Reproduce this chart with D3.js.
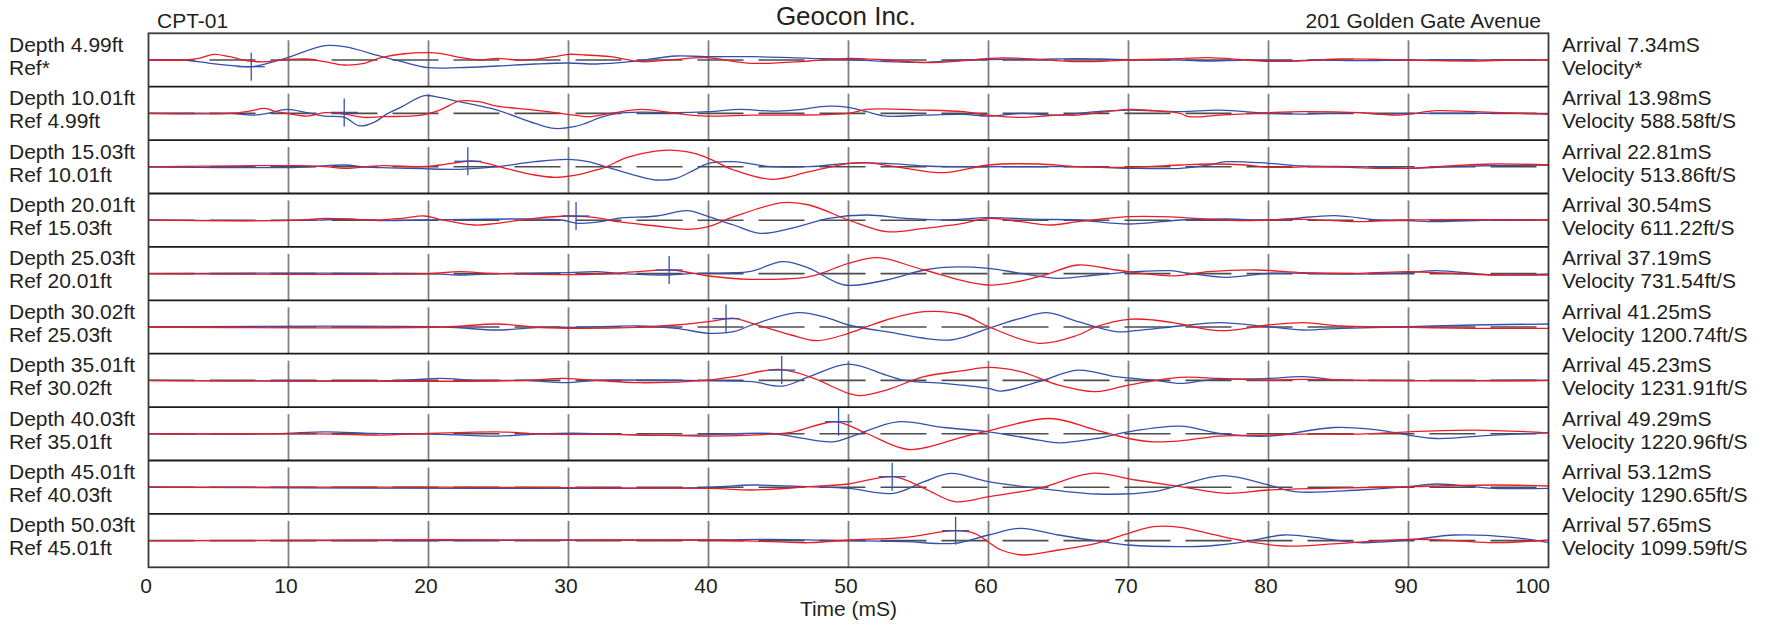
<!DOCTYPE html>
<html>
<head>
<meta charset="utf-8">
<script src="https://cdn.jsdelivr.net/npm/d3@7"></script>
<style>
  html, body { margin: 0; padding: 0; background: #fff; }
  svg text { font-family: "Liberation Sans", Arial, Helvetica, sans-serif; fill: #231f20; }
</style>
</head>
<body>
<div id="chart"></div>
<script>
var depthLabels = ['Depth 4.99ft', 'Depth 10.01ft', 'Depth 15.03ft', 'Depth 20.01ft', 'Depth 25.03ft',
    'Depth 30.02ft', 'Depth 35.01ft', 'Depth 40.03ft', 'Depth 45.01ft', 'Depth 50.03ft'];
var refLabels = ['Ref*', 'Ref 4.99ft', 'Ref 10.01ft', 'Ref 15.03ft', 'Ref 20.01ft',
    'Ref 25.03ft', 'Ref 30.02ft', 'Ref 35.01ft', 'Ref 40.03ft', 'Ref 45.01ft'];
var arrivalLabels = ['Arrival 7.34mS', 'Arrival 13.98mS', 'Arrival 22.81mS', 'Arrival 30.54mS', 'Arrival 37.19mS',
    'Arrival 41.25mS', 'Arrival 45.23mS', 'Arrival 49.29mS', 'Arrival 53.12mS', 'Arrival 57.65mS'];
var velocityLabels = ['Velocity*', 'Velocity 588.58ft/S', 'Velocity 513.86ft/S', 'Velocity 611.22ft/S', 'Velocity 731.54ft/S',
    'Velocity 1200.74ft/S', 'Velocity 1231.91ft/S', 'Velocity 1220.96ft/S', 'Velocity 1290.65ft/S', 'Velocity 1099.59ft/S'];

// arrival pick (ms) and trace amplitude at the pick
var arrivals = [7.34, 13.98, 22.81, 30.54, 37.19, 41.25, 45.23, 49.29, 53.12, 57.65];
var pickAmps = [-6.7, 1, 5.5, 4.2, 3.6, 8.4, 10.3, 12.1, 10.5, 9.9];

var timeTicks = [0, 10, 20, 30, 40, 50, 60, 70, 80, 90, 100];

// traces: [time mS, amplitude]
var blue01 = [[0,0],[2.5,0],[4.4,-3.3],[6.3,-6],[7.4,-6.7],[8.5,-3.3],[10,2.7],[12.6,14.3],[14,13.3],[16.7,3.3],[18.1,-1.7],[20,-7.7],[22.2,-7.7],[24.9,-6],[27.6,-4],[30,-3],[32,-4],[34.4,-1.7],[37.7,4],[39.8,3.3],[43.1,3.3],[47.2,1.7],[50,0.7],[52.7,-1.7],[55.4,-2.3],[58.2,0],[63.6,0.7],[66.4,1.3],[69.1,0.7],[73.7,0],[75.7,-1],[78.4,0],[81.1,-1],[83.8,0],[86.5,-0.7],[90,0],[100,0]];
var red01 = [[0,0],[2.5,0],[3.6,1.7],[4.7,5.7],[5.8,3.3],[7.2,-1],[8.5,-1.7],[10,0.7],[11.3,1],[12.6,-1.7],[14,-5],[15.4,-3.3],[16.7,2.7],[18.1,6],[20,7.3],[20.8,6.7],[22.2,2.7],[23.6,0],[24.9,1.7],[26.3,0],[27.6,0.7],[29,3.3],[30,5.7],[31.2,5],[33,3.3],[35.2,-1.7],[37.7,0.7],[39.8,2.3],[43.1,-3.3],[47.2,-1],[50,1.7],[52.7,0],[55.4,-2.7],[58.2,-0.7],[60,1.7],[62.3,1.7],[66.4,-1.7],[70,0],[73.7,1.3],[75.7,2.3],[78.4,0],[80,-1.3],[82.5,-0.7],[85.2,1],[87.9,0.7],[90,0],[92,-0.7],[94.7,-1],[97.4,0],[100,0]];
var blue02 = [[0,0],[5.8,0],[7.4,-1.7],[8.5,0],[9.9,4],[11.3,0.7],[12.6,-2.7],[14,-4],[15.1,-12.5],[16.2,-8.3],[16.9,-1.7],[18.1,6.7],[19.7,17.7],[20.8,16],[22.2,11.7],[24.9,3.3],[27.6,-10],[29,-15],[30.4,-13.3],[31.2,-10],[32.3,-4],[33.5,0],[35.2,1.3],[37.7,0.7],[40,1.7],[42.3,4],[44.5,2.3],[46.1,3.3],[48.6,7.3],[50,6],[51.3,1.7],[52.7,-2.7],[55.4,-1.7],[58.2,-1],[60,-2.7],[62.3,0],[65,-1.7],[67.7,1.7],[70,3.3],[73.7,1.7],[76.5,3.3],[80,0],[82.5,-0.7],[86.5,0.7],[87.9,-0.7],[90,0],[100,0]];
var red02 = [[0,0],[5.8,0],[7.2,2.3],[8.3,5],[9.1,1.7],[9.9,0],[11.3,-2.7],[12.6,0.7],[14,-0.7],[15.4,-4],[16.7,-3.3],[19.5,-1.7],[20.8,3.3],[22.2,12.3],[23.6,11.7],[24.9,7.3],[27.6,3.3],[30.4,-1.7],[31.5,-3.3],[33,0],[35.2,4],[37.7,0],[39.8,-2.7],[43.1,-1.7],[45.9,-1.7],[50,0],[51.3,4],[55.4,3.3],[58.2,1.7],[60,-1.7],[62.3,-4],[65,-1.7],[66.4,-1.7],[70,4],[71.8,2.7],[73.7,0],[74.3,-3.3],[76.5,-1.7],[80,0.7],[82.5,1.7],[86.5,0.7],[89.3,-1.7],[92,2.7],[94.7,1.7],[100,-1]];
var blue03 = [[0,0],[10.7,-0.5],[14,1.8],[15.4,0],[16.7,-0.9],[19.5,-1.9],[22.2,-2.5],[24.9,0.1],[27.6,5.1],[30,7.5],[31.5,5],[32.7,0],[34.9,-9],[36.3,-13.2],[37.7,-11.5],[39,-3],[40,3.5],[41.8,5.1],[44.5,0.1],[47.2,0.1],[50,3.5],[52.7,3.5],[55.4,0.8],[58.2,0.1],[66.4,0.1],[70,-1.5],[73.7,-1.5],[75.7,1.8],[77,5.1],[80,3.5],[82.5,0.8],[86.5,0.1],[90,-1.5],[92,-0.5],[94.7,0.8],[100,1.8]];
var red03 = [[0,0],[10.7,1.1],[12.6,0.1],[14,-1.5],[16.7,1.1],[19.5,0.1],[20.8,1.8],[23,5.8],[23.6,5.1],[25.5,-1.5],[27.6,-8.2],[29,-10.5],[30.4,-8.5],[31.5,-5],[32.7,0],[34,8.5],[35.5,14],[36.8,16.5],[38,16],[39,13.5],[40,8.5],[41.8,-3.2],[44.5,-12.5],[47.2,-4.9],[50,3.5],[51.3,4.1],[54.1,-1.5],[56.8,-5.9],[60,1.8],[63.6,2.8],[66.4,0.1],[70,-0.5],[73.7,1.8],[75.7,2.8],[78.4,1.8],[80,-0.5],[83.8,0.1],[87.9,-1.5],[90,-1.5],[92,0.1],[96.1,2.8],[100,1.8]];
var blue04 = [[0,0],[12,0],[14,1.2],[16.7,-0.5],[19.5,0.2],[27.6,1.2],[29.5,0.2],[30.7,-3.1],[32.3,-1.5],[33.5,1.9],[36.3,4.2],[38.5,9.5],[40,3.5],[41.8,-4.8],[43.7,-13.1],[45.9,-8.1],[48.6,1.9],[51.3,5.2],[54.1,1.9],[56.8,0.2],[60,2.5],[63.6,0.9],[66.4,0.2],[70,-3.8],[73.7,0.2],[77,1.2],[80,0.2],[81.9,1.9],[84.7,4.5],[87.9,0.2],[90,-0.5],[92,-1.5],[96.1,0.2],[100,0.2]];
var red04 = [[0,0],[10.7,0],[12.6,1.9],[16.2,0.2],[18.1,1.9],[19.7,4.2],[20.8,0.9],[23.3,-4.8],[24.9,-3.1],[27.6,1.9],[30,4.2],[31.2,3.5],[32.3,1.9],[33.5,-1.5],[36.3,-5.8],[38.5,-9.1],[40,-6.5],[41.8,3.5],[45.3,17.5],[47.2,15.2],[50,0.2],[52.7,-11.5],[55.4,-8.1],[58.2,-3.1],[60,1.9],[62.3,-1.5],[64.4,-4.8],[66.4,-1.5],[70,3.5],[73.7,2.9],[75.7,0.9],[78.4,-0.5],[80,0.2],[82.5,0.9],[86.5,-1.5],[90,0.2],[100,0.2]];
var blue05 = [[0,0],[20,0],[22.2,-1.4],[25,0],[30,1],[32,1.9],[33.5,0.3],[37.1,-1.4],[39,0.3],[42.9,1.9],[45.3,11.9],[47.2,5.3],[49.7,-11.4],[52.7,-6.4],[55.4,3.6],[56.8,6.3],[60,5.3],[62.3,0.3],[65,-4.7],[67.7,-1.4],[70.5,1.9],[73,2.9],[74.3,0.3],[77,-3.7],[80,0.3],[82.5,0.3],[86.5,-0.4],[90,0.9],[92,2.9],[96.1,-1.4],[100,-0.4]];
var red05 = [[0,0],[20,0],[22.2,1.9],[24.9,0],[32.3,-0.4],[34.9,1.9],[37.4,3.6],[40,-2.4],[42.9,-5.7],[47.2,-3.1],[50,10.3],[52.1,15.9],[55.4,3.6],[60,-11.4],[63.6,-3.1],[66.4,8.6],[69.1,3.6],[73.3,-2.3],[75.7,1.9],[79.2,3.6],[82.5,0.9],[86.5,0.3],[90,1.9],[92,0.9],[96.1,-1.4],[100,-1.4]];
var blue06 = [[0,0],[21,0],[24.9,-3],[28,-0.3],[30.8,-0.3],[34.9,1],[37.7,-1.3],[40,-6.3],[41.8,-4.7],[43.1,2],[46.4,14.3],[48.6,8.7],[50,2],[52.7,-4.7],[57.3,-13],[60,-1.3],[62.3,8.7],[64.2,14.3],[66.4,5.3],[69.1,-4.7],[70.5,-3.7],[73.7,1],[76.5,4.3],[80,0.3],[82.5,-3],[85.2,-1.3],[90,0.3],[94.7,2],[100,3]];
var red06 = [[0,0],[21,0],[24.9,3],[28,-0.5],[30.8,-1.3],[34.9,-0.3],[37.7,2],[40,5.3],[41.8,8.7],[43.1,3.7],[45.9,-8],[47.8,-13.7],[50,-6.3],[52.7,7],[55.4,15.3],[58.2,12],[60,0.3],[63.6,-16.3],[66.4,-8],[67.7,0.3],[70,7.7],[71.8,7],[73.7,3],[76.5,-3.7],[80,2],[82.5,4.3],[85.2,1],[90,-0.3],[94.7,-1.3],[100,-1.3]];
var blue07 = [[0,0],[18,0],[20.8,2],[23.5,0],[27,0],[29.8,-2.3],[32,0],[40,-0.3],[43.1,-1.3],[45.3,-5.7],[47.2,3.7],[50,16.3],[52.7,5.3],[54.1,-0.3],[56.8,-3],[60,-8],[60.9,-10.7],[63.6,-1.3],[66.4,10.3],[69.1,3.7],[71.8,0.3],[73.7,-3],[75.7,0.3],[80,2],[82.5,3.7],[85.2,0.3],[90,-0.3],[100,0.3]];
var red07 = [[0,0],[27,0],[29.5,2],[32,0],[35,-2.3],[40,0.3],[41.8,3.7],[45,11],[47.2,3.7],[50,-13],[50.8,-15.3],[52.7,-9.7],[55.4,3.7],[58.2,9.7],[60,13],[62.3,8.7],[65,-4.7],[67.7,-11.3],[70,-4.7],[73.7,3],[76.5,2],[80,0.3],[82.5,1],[86.5,0.3],[90,-0.3],[100,-0.3]];
var blue08 = [[0,0],[9,0],[12.6,2],[16,0.5],[20,0],[24.9,-2.3],[28,0],[31,0.5],[35,-1.3],[39,-1.3],[44.5,0.3],[46.1,-3],[48.9,-8],[50.5,-1.3],[53.5,12],[56.8,6.3],[60,2],[63.6,-6.3],[65,-9],[67.7,-4.7],[70,2],[73.7,7.7],[76.5,0.3],[80,-2.3],[84.7,6.3],[87.9,3.7],[90,-1.3],[92,-4.7],[96.1,-1.3],[100,1]];
var red08 = [[0,0],[12,0],[16.7,-1.3],[19,0],[24.9,2],[28,0],[35,-1],[40,-2.3],[44.5,-0.3],[46.1,2],[49.1,12],[51.3,0.3],[54.3,-15.7],[58.2,-3],[60,3],[64.4,15.3],[67.7,3.7],[70,-4.7],[71.8,-8],[73.7,-7],[76.5,-2.3],[80,-1.3],[82.5,-0.3],[86.5,-0.3],[90,2],[94.7,3.7],[100,1]];
var blue09 = [[0,0],[40,-0.1],[43.1,2.2],[47.2,0.5],[50,-1.1],[53.2,-6.1],[55.4,5.5],[57.3,13.9],[60,5.5],[63.6,-1.1],[67.7,-6.8],[71.8,-4.5],[73.7,2.2],[76.8,11.5],[80,2.2],[81.9,-4.5],[86.5,-2.8],[90,0.5],[92,3.2],[96.1,-1.1],[100,-1.1]];
var red09 = [[0,0],[40,-1.1],[43.1,-2.8],[47.2,0.5],[50,3.2],[53.2,10.5],[55.4,-1.1],[57.6,-14.5],[60,-9.5],[63.6,-1.1],[67.4,13.9],[70.5,7.2],[73.7,0.5],[77,-6.1],[80,-2.8],[83.8,-1.1],[90,0.5],[96.1,2.2],[100,1.2]];
var blue10 = [[0,0],[40,0.6],[44.5,1.3],[50,-0.1],[54.1,-1.1],[57.6,-2.7],[60,5.6],[62.3,12.3],[65,5.6],[67.7,-0.1],[70,-4.4],[73.7,-6.1],[75.7,-5.4],[78.4,-1.1],[81.1,5.6],[83.8,2.3],[86.5,-2.1],[90,0.6],[93.3,5.6],[97.4,3.3],[100,-2.1]];
var red10 = [[0,0],[40,0.6],[44.5,-1.1],[47.2,-2.1],[50,0.6],[54.1,3.3],[57.6,9.9],[59,7.3],[60.9,-9.4],[62.5,-14.4],[65,-9.4],[67.7,-2.7],[70,7.3],[71.8,13.9],[73.7,13.3],[75.7,7.3],[77.9,0.6],[81.1,-5.4],[85.2,-2.7],[90,1.3],[93.3,-0.1],[96.1,-2.1],[100,0.6]];

var blueTraces = [blue01, blue02, blue03, blue04, blue05, blue06, blue07, blue08, blue09, blue10];
var redTraces = [red01, red02, red03, red04, red05, red06, red07, red08, red09, red10];

var width = 1767, height = 626;
var plotLeft = 148.5, plotRight = 1548.5, plotTop = 33.3, plotBottom = 567.3;
var blue = '#3450ab', red = '#ec1c24';

var svg = d3.select('#chart').append('svg')
    .attr('width', width)
    .attr('height', height);

var x = d3.scaleLinear().domain([0, 100]).range([plotLeft, plotRight]);
var row = d3.scaleBand().domain(d3.range(depthLabels.length)).range([plotTop, plotBottom]);
var amp = d3.scaleLinear().domain([-26.7, 26.7]).range([row.bandwidth(), 0]);

var line = d3.line()
    .x(function(d) { return x(d[0]); })
    .y(function(d) { return amp(d[1]); })
    .curve(d3.curveCatmullRom.alpha(0.5));

var panels = svg.selectAll('g.panel')
    .data(d3.range(depthLabels.length)).enter().append('g')
    .attr('class', 'panel')
    .attr('transform', function(i) { return 'translate(0,' + row(i) + ')'; });

// vertical grid, starts a little below the panel top
panels.each(function() {
    d3.select(this).selectAll('line.grid')
        .data(timeTicks.slice(1, -1)).enter().append('line')
        .attr('x1', function(t) { return x(t); })
        .attr('x2', function(t) { return x(t); })
        .attr('y1', 7)
        .attr('y2', row.bandwidth())
        .style('stroke', '#808080')
        .style('stroke-width', 1.8);
});

// dashed zero line
panels.append('line')
    .attr('x1', x(0)).attr('x2', x(100))
    .attr('y1', amp(0)).attr('y2', amp(0))
    .style('stroke', '#4d4d4d')
    .style('stroke-width', 1.6)
    .style('stroke-dasharray', '46,15');

panels.append('path')
    .attr('d', function(i) { return line(blueTraces[i]); })
    .style('fill', 'none')
    .style('stroke', blue)
    .style('stroke-width', 1.3);

panels.append('path')
    .attr('d', function(i) { return line(redTraces[i]); })
    .style('fill', 'none')
    .style('stroke', red)
    .style('stroke-width', 1.3);

// arrival cross
panels.append('line')
    .attr('x1', function(i) { return x(arrivals[i]) - 13.5; })
    .attr('x2', function(i) { return x(arrivals[i]) + 13.5; })
    .attr('y1', function(i) { return amp(pickAmps[i]); })
    .attr('y2', function(i) { return amp(pickAmps[i]); })
    .style('stroke', blue).style('stroke-width', 1.3);
panels.append('line')
    .attr('x1', function(i) { return x(arrivals[i]); })
    .attr('x2', function(i) { return x(arrivals[i]); })
    .attr('y1', function(i) { return amp(pickAmps[i]) - 14; })
    .attr('y2', function(i) { return amp(pickAmps[i]) + 14; })
    .style('stroke', blue).style('stroke-width', 1.3);

// panel separators and frame
svg.selectAll('line.sep')
    .data(d3.range(1, depthLabels.length)).enter().append('line')
    .attr('x1', plotLeft).attr('x2', plotRight)
    .attr('y1', function(i) { return row(i); })
    .attr('y2', function(i) { return row(i); })
    .style('stroke', '#1a1a1a')
    .style('stroke-width', 1.8);

svg.append('rect')
    .attr('x', plotLeft).attr('y', plotTop)
    .attr('width', plotRight - plotLeft)
    .attr('height', plotBottom - plotTop)
    .style('fill', 'none')
    .style('stroke', '#3a3a3a')
    .style('stroke-width', 1.8);

// row labels
panels.append('text').attr('x', 9).attr('y', 18.5)
    .style('font-size', '21px').text(function(i) { return depthLabels[i]; });
panels.append('text').attr('x', 9).attr('y', 41.5)
    .style('font-size', '21px').text(function(i) { return refLabels[i]; });
panels.append('text').attr('x', 1562).attr('y', 18.5)
    .style('font-size', '21px').text(function(i) { return arrivalLabels[i]; });
panels.append('text').attr('x', 1562).attr('y', 41.5)
    .style('font-size', '21px').text(function(i) { return velocityLabels[i]; });

// x axis
var xAxis = d3.axisBottom(x).tickValues(timeTicks).tickSize(0).tickPadding(11);
var axisG = svg.append('g')
    .attr('transform', 'translate(0,' + plotBottom + ')')
    .call(xAxis);
axisG.select('.domain').remove();
axisG.selectAll('text')
    .style('font-size', '21px')
    .style('font-family', '"Liberation Sans", Arial, sans-serif')
    .attr('fill', '#231f20')
    .attr('dx', -3);
axisG.selectAll('.tick').filter(function(d) { return d === 100; }).select('text')
    .attr('text-anchor', 'end').attr('dx', 1);

svg.append('text')
    .attr('x', (plotLeft + plotRight) / 2).attr('y', 616)
    .attr('text-anchor', 'middle')
    .style('font-size', '21px')
    .text('Time (mS)');

// header
svg.append('text').attr('x', 157).attr('y', 28)
    .style('font-size', '21px').text('CPT-01');
svg.append('text').attr('x', 846).attr('y', 25)
    .attr('text-anchor', 'middle')
    .style('font-size', '26px').text('Geocon Inc.');
svg.append('text').attr('x', 1541).attr('y', 28)
    .attr('text-anchor', 'end')
    .style('font-size', '21px').text('201 Golden Gate Avenue');
</script>
</body>
</html>
